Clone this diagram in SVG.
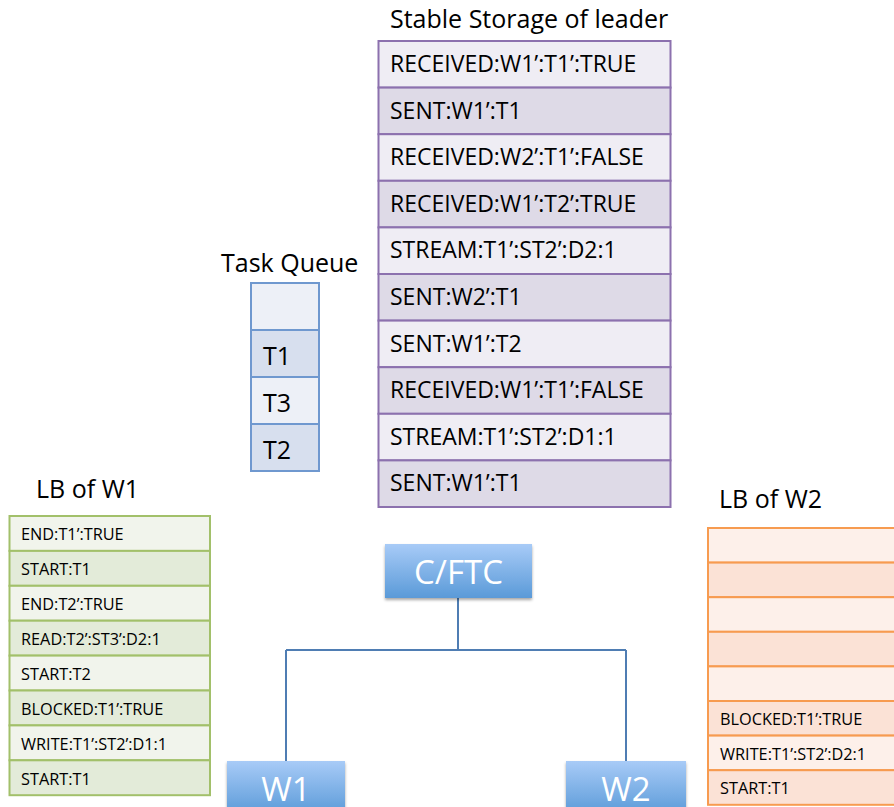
<svg xmlns="http://www.w3.org/2000/svg" width="894" height="807" viewBox="0 0 894 807">
<defs>
<linearGradient id="bg" x1="0" y1="0" x2="0" y2="1">
<stop offset="0" stop-color="#A8CBF7"/>
<stop offset="1" stop-color="#5A9AD8"/>
</linearGradient>
<filter id="sh" x="-10%" y="-10%" width="130%" height="140%">
<feDropShadow dx="0" dy="2" stdDeviation="1.5" flood-color="#000" flood-opacity="0.35"/>
</filter>
<style>
text{font-family:"Open Sans","Liberation Sans",sans-serif;fill:#000}
.title{font-size:25px}
.ss{font-size:23px}
.tq{font-size:25px}
.lb{font-size:16.3px}
.sl{fill:#EFEDF4;stroke:#8C71AE;stroke-width:2}
.sd{fill:#DEDAE7;stroke:#8C71AE;stroke-width:2}
.ql{fill:#EDF0F7;stroke:#6F98CF;stroke-width:2}
.qd{fill:#D7DFEE;stroke:#6F98CF;stroke-width:2}
.gl{fill:#F1F4EC;stroke:#A2C06A;stroke-width:2}
.gd{fill:#E3EBD9;stroke:#A2C06A;stroke-width:2}
.ol{fill:#FDF0EA;stroke:#F79B50;stroke-width:2}
.od{fill:#FBE2D6;stroke:#F79B50;stroke-width:2}
.box{fill:url(#bg);filter:url(#sh)}
.bt{fill:#fff;font-size:33px;text-anchor:middle}
.con{fill:none;stroke:#4F7DB3;stroke-width:2}
</style>
</defs>

<g id="stable-storage">
<text class="title" x="390" y="28">Stable Storage of leader</text>
<rect class="sl" x="378.5" y="41" width="292" height="46.6"/>
<rect class="sd" x="378.5" y="87.6" width="292" height="46.6"/>
<rect class="sl" x="378.5" y="134.2" width="292" height="46.6"/>
<rect class="sd" x="378.5" y="180.8" width="292" height="46.6"/>
<rect class="sl" x="378.5" y="227.4" width="292" height="46.6"/>
<rect class="sd" x="378.5" y="274" width="292" height="46.6"/>
<rect class="sl" x="378.5" y="320.6" width="292" height="46.6"/>
<rect class="sd" x="378.5" y="367.2" width="292" height="46.6"/>
<rect class="sl" x="378.5" y="413.8" width="292" height="46.6"/>
<rect class="sd" x="378.5" y="460.4" width="292" height="46.6"/>
<text class="ss" x="390" y="72">RECEIVED:W1’:T1’:TRUE</text>
<text class="ss" x="390" y="119">SENT:W1’:T1</text>
<text class="ss" x="390" y="165">RECEIVED:W2’:T1’:FALSE</text>
<text class="ss" x="390" y="212">RECEIVED:W1’:T2’:TRUE</text>
<text class="ss" x="390" y="258">STREAM:T1’:ST2’:D2:1</text>
<text class="ss" x="390" y="305">SENT:W2’:T1</text>
<text class="ss" x="390" y="352">SENT:W1’:T2</text>
<text class="ss" x="390" y="398">RECEIVED:W1’:T1’:FALSE</text>
<text class="ss" x="390" y="445">STREAM:T1’:ST2’:D1:1</text>
<text class="ss" x="390" y="491">SENT:W1’:T1</text>
</g>

<g id="task-queue">
<text class="title" x="221" y="272">Task Queue</text>
<rect class="ql" x="251" y="283" width="68" height="47"/>
<rect class="qd" x="251" y="330" width="68" height="47"/>
<rect class="ql" x="251" y="377" width="68" height="47"/>
<rect class="qd" x="251" y="424" width="68" height="47"/>
<text class="tq" x="263" y="365">T1</text>
<text class="tq" x="263" y="412">T3</text>
<text class="tq" x="263" y="459">T2</text>
</g>

<g id="lb-w1">
<text class="title" x="36" y="498">LB of W1</text>
<rect class="gl" x="9.5" y="516" width="200.5" height="34.9"/>
<rect class="gd" x="9.5" y="550.9" width="200.5" height="34.9"/>
<rect class="gl" x="9.5" y="585.8" width="200.5" height="34.9"/>
<rect class="gd" x="9.5" y="620.7" width="200.5" height="34.9"/>
<rect class="gl" x="9.5" y="655.6" width="200.5" height="34.9"/>
<rect class="gd" x="9.5" y="690.5" width="200.5" height="34.9"/>
<rect class="gl" x="9.5" y="725.4" width="200.5" height="34.9"/>
<rect class="gd" x="9.5" y="760.3" width="200.5" height="34.9"/>
<text class="lb" x="21" y="540">END:T1’:TRUE</text>
<text class="lb" x="21" y="575">START:T1</text>
<text class="lb" x="21" y="610">END:T2’:TRUE</text>
<text class="lb" x="21" y="645">READ:T2’:ST3’:D2:1</text>
<text class="lb" x="21" y="680">START:T2</text>
<text class="lb" x="21" y="715">BLOCKED:T1’:TRUE</text>
<text class="lb" x="21" y="750">WRITE:T1’:ST2’:D1:1</text>
<text class="lb" x="21" y="785">START:T1</text>
</g>

<g id="lb-w2">
<text class="title" x="719" y="508">LB of W2</text>
<rect class="ol" x="708" y="528" width="200" height="34.6"/>
<rect class="od" x="708" y="562.6" width="200" height="34.6"/>
<rect class="ol" x="708" y="597.2" width="200" height="34.6"/>
<rect class="od" x="708" y="631.8" width="200" height="34.6"/>
<rect class="ol" x="708" y="666.4" width="200" height="34.6"/>
<rect class="od" x="708" y="701" width="200" height="34.6"/>
<rect class="ol" x="708" y="735.6" width="200" height="34.6"/>
<rect class="od" x="708" y="770.2" width="200" height="34.6"/>
<text class="lb" x="720" y="725">BLOCKED:T1’:TRUE</text>
<text class="lb" x="720" y="760">WRITE:T1’:ST2’:D2:1</text>
<text class="lb" x="720" y="794">START:T1</text>
</g>

<g id="connectors">
<path class="con" d="M458 598 V650 M286 650 H626 M286 650 V761 M626 650 V761"/>
</g>

<g id="cftc">
<rect class="box" x="385" y="544" width="147" height="54"/>
<text class="bt" x="458.5" y="584">C/FTC</text>
</g>
<g id="w1">
<rect class="box" x="227" y="761" width="118" height="54"/>
<text class="bt" x="286" y="801">W1</text>
</g>
<g id="w2">
<rect class="box" x="566" y="761" width="120" height="54"/>
<text class="bt" x="626" y="801">W2</text>
</g>
</svg>
